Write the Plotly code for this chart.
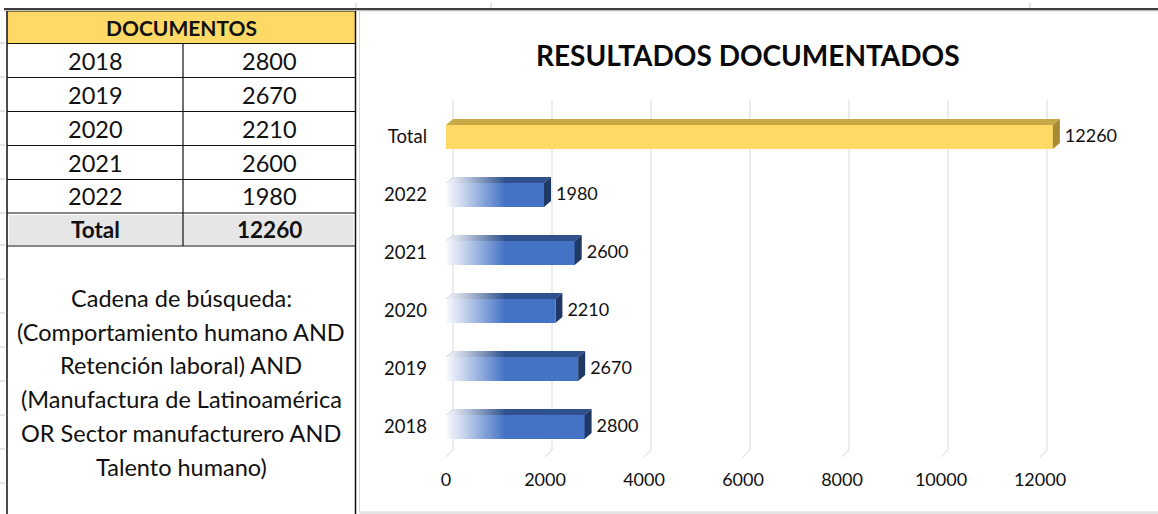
import plotly.graph_objects as go

# ---------------- data ----------------
categories = ["2018", "2019", "2020", "2021", "2022", "Total"]
documents = [2800, 2670, 2210, 2600, 1980, 12260]
x_ticks = [0, 2000, 4000, 6000, 8000, 10000, 12000]

table_title = "DOCUMENTOS"
table_years = ["2018", "2019", "2020", "2021", "2022"]
table_values = [2800, 2670, 2210, 2600, 1980]
table_total_label = "Total"
table_total_value = 12260
search_lines = [
    "Cadena de búsqueda:",
    "(Comportamiento humano AND",
    "Retención laboral) AND",
    "(Manufactura de Latinoamérica",
    "OR Sector manufacturero AND",
    "Talento humano)",
]
chart_title = "RESULTADOS DOCUMENTADOS"

# ---------------- layout constants ----------------
W, H = 1158, 514
FONT = "Lato"
TXT = "#111111"


def PX(x):
    return x / W


def PY(y):
    return 1 - y / H


# chart geometry (pixels)
PX_PER_UNIT = 99 / 2000
X0_PX = 446
XD_L, XD_R = 428, 1130
ROW_PX = 58
ROW0_PX = 427
YD_T, YD_B = 100, 457
x_range = [-(X0_PX - XD_L) / PX_PER_UNIT, (XD_R - X0_PX) / PX_PER_UNIT]
y_range = [-(YD_B - ROW0_PX) / ROW_PX, (ROW0_PX - YD_T) / ROW_PX]
DX = 7 / PX_PER_UNIT
DY = 6 / ROW_PX
DYF = 7 / ROW_PX
BAR_W = 24 / ROW_PX
FADE = 1200
LABEL_GAP = 5 / PX_PER_UNIT

BLUE, BLUE_TOP, BLUE_SIDE = "#4472C4", "#2F528F", "#1F3864"
GOLD, GOLD_TOP, GOLD_SIDE = "#FFD966", "#C9A946", "#A88A35"

idx = list(range(len(categories)))
is_total = [c == "Total" for c in categories]

fig = go.Figure()

# front faces
fig.add_trace(go.Bar(
    orientation="h", y=idx, x=documents, width=BAR_W,
    marker=dict(color=[GOLD if t else BLUE for t in is_total], line=dict(width=0)),
    hoverinfo="skip", showlegend=False,
))


def faces(sel):
    top_x, top_y, side_x, side_y = [], [], [], []
    for i, v in enumerate(documents):
        if is_total[i] != sel:
            continue
        h = BAR_W / 2
        top_x += [0, DX, v + DX, v, 0, None]
        top_y += [i + h, i + h + DY, i + h + DY, i + h, i + h, None]
        side_x += [v, v + DX, v + DX, v, v, None]
        side_y += [i - h, i - h + DY, i + h + DY, i + h, i - h, None]
    return top_x, top_y, side_x, side_y


for sel, ctop, cside in [(False, BLUE_TOP, BLUE_SIDE), (True, GOLD_TOP, GOLD_SIDE)]:
    tx, ty, sx, sy = faces(sel)
    fig.add_trace(go.Scatter(x=tx, y=ty, mode="lines", fill="toself", fillcolor=ctop,
                             line=dict(width=0), hoverinfo="skip", showlegend=False))
    fig.add_trace(go.Scatter(x=sx, y=sy, mode="lines", fill="toself", fillcolor=cside,
                             line=dict(width=0), hoverinfo="skip", showlegend=False))

# white fade on the left side of the blue bars
fx, fy = [], []
for i, v in enumerate(documents):
    if is_total[i]:
        continue
    h = BAR_W / 2
    fx += [0, 0, DX, FADE, FADE, 0, None]
    fy += [i - h, i + h, i + h + DY, i + h + DY, i - h, i - h, None]
fig.add_trace(go.Scatter(
    x=fx, y=fy, mode="lines", fill="toself", line=dict(width=0),
    fillgradient=dict(type="horizontal", start=0, stop=FADE,
                      colorscale=[[0, "rgba(255,255,255,0.97)"],
                                  [0.35, "rgba(255,255,255,0.65)"],
                                  [1, "rgba(255,255,255,0)"]]),
    hoverinfo="skip", showlegend=False,
))

# value labels
fig.add_trace(go.Scatter(
    x=[v + DX + LABEL_GAP for v in documents], y=idx, mode="text",
    text=[str(v) for v in documents], textposition="middle right",
    textfont=dict(family=FONT, size=18, color=TXT),
    cliponaxis=False, hoverinfo="skip", showlegend=False,
))

shapes = []
# 3D gridlines
for v in x_ticks:
    shapes.append(dict(
        type="path", xref="x", yref="y", layer="below",
        path=f"M {v + DX},{y_range[1]} L {v + DX},{y_range[0] + DYF} L {v},{y_range[0]}",
        line=dict(color="#D9D9D9", width=1),
    ))

# chart frame
shapes.append(dict(type="rect", xref="paper", yref="paper",
                   x0=PX(359.5), x1=PX(1162), y0=PY(512), y1=PY(11),
                   line=dict(color="#D6D6D6", width=1), layer="below"))
shapes.append(dict(type="line", xref="paper", yref="paper",
                   x0=PX(359.5), x1=PX(1158), y0=PY(513), y1=PY(513),
                   line=dict(color="#E3E3E3", width=2)))

# ---------- table ----------
TL, TM, TR = 7, 183, 355.5
row_lines = [11, 43.5, 77.5, 111.5, 145.5, 179.5, 213, 246]
# header fill
shapes.append(dict(type="rect", xref="paper", yref="paper",
                   x0=PX(TL), x1=PX(TR), y0=PY(row_lines[1]), y1=PY(row_lines[0]),
                   fillcolor="#FFD966", line=dict(width=0), layer="below"))
# total fill
shapes.append(dict(type="rect", xref="paper", yref="paper",
                   x0=PX(TL + 2), x1=PX(TR - 2), y0=PY(row_lines[-1] - 1), y1=PY(row_lines[-2] + 2),
                   fillcolor="#E7E6E6", line=dict(width=0), layer="below"))
# horizontal lines
for y in row_lines:
    shapes.append(dict(type="line", xref="paper", yref="paper",
                       x0=PX(TL), x1=PX(TR), y0=PY(y), y1=PY(y),
                       line=dict(color="#111111", width=1.2)))
# vertical lines
shapes.append(dict(type="line", xref="paper", yref="paper", x0=PX(TL), x1=PX(TL),
                   y0=PY(11), y1=PY(H), line=dict(color="#111111", width=1.5)))
shapes.append(dict(type="line", xref="paper", yref="paper", x0=PX(TR), x1=PX(TR),
                   y0=PY(9), y1=PY(H), line=dict(color="#111111", width=1.5)))
shapes.append(dict(type="line", xref="paper", yref="paper", x0=PX(TM), x1=PX(TM),
                   y0=PY(row_lines[1]), y1=PY(row_lines[-1]), line=dict(color="#111111", width=1.2)))
# sheet top border
shapes.append(dict(type="line", xref="paper", yref="paper", x0=PX(4), x1=PX(W),
                   y0=PY(9), y1=PY(9), line=dict(color="#3F3F3F", width=2)))
shapes.append(dict(type="line", xref="paper", yref="paper", x0=PX(4), x1=PX(W),
                   y0=PY(10.5), y1=PY(10.5), line=dict(color="#BDBDBD", width=1)))
# sheet grid ticks
for x in [356, 491, 1030]:
    shapes.append(dict(type="line", xref="paper", yref="paper", x0=PX(x), x1=PX(x),
                       y0=PY(3), y1=PY(8), line=dict(color="#C8C8C8", width=1)))
for y in [43, 77, 111, 145, 179, 213, 245, 279, 313, 347, 381, 415, 449, 483]:
    shapes.append(dict(type="line", xref="paper", yref="paper", x0=PX(0), x1=PX(5),
                       y0=PY(y), y1=PY(y), line=dict(color="#C8C8C8", width=1)))

annotations = []


def text(x, y, s, size, bold=False, color=TXT):
    annotations.append(dict(
        xref="paper", yref="paper", x=PX(x), y=PY(y), xanchor="center", yanchor="middle",
        text=f"<b>{s}</b>" if bold else s, showarrow=False,
        font=dict(family=FONT, size=size, color=color),
    ))


text(181, 27.5, table_title, 21, bold=True)
for k, (yr, val) in enumerate(zip(table_years, table_values)):
    yc = (row_lines[k + 1] + row_lines[k + 2]) / 2
    text(95, yc, yr, 23.5)
    text(269, yc, str(val), 23.5)
yc = (row_lines[-2] + row_lines[-1]) / 2
text(95, yc, table_total_label, 22.5, bold=True)
text(269, yc, str(table_total_value), 22.5, bold=True)
for k, line in enumerate(search_lines):
    text(181, 298 + k * 33.7, line, 23.5)

text(748, 55, chart_title, 28, bold=True, color="#0a0a0a")

fig.update_layout(
    width=W, height=H, margin=dict(l=0, r=0, t=0, b=0),
    paper_bgcolor="white", plot_bgcolor="rgba(0,0,0,0)",
    barmode="overlay", bargap=0,
    shapes=shapes, annotations=annotations,
    xaxis=dict(domain=[PX(XD_L), PX(XD_R)], range=x_range, showgrid=False, zeroline=False,
               showline=False, tickvals=x_ticks, ticktext=[str(v) for v in x_ticks],
               ticks="outside", ticklen=6, tickcolor="rgba(0,0,0,0)",
               tickfont=dict(family=FONT, size=18, color=TXT), fixedrange=True),
    yaxis=dict(domain=[PY(YD_B), PY(YD_T)], range=y_range, showgrid=False, zeroline=False,
               showline=False, tickvals=idx, ticktext=categories, ticks="",
               tickfont=dict(family=FONT, size=18.5, color=TXT), fixedrange=True),
    font=dict(family=FONT),
)

fig.write_html("out.html")
